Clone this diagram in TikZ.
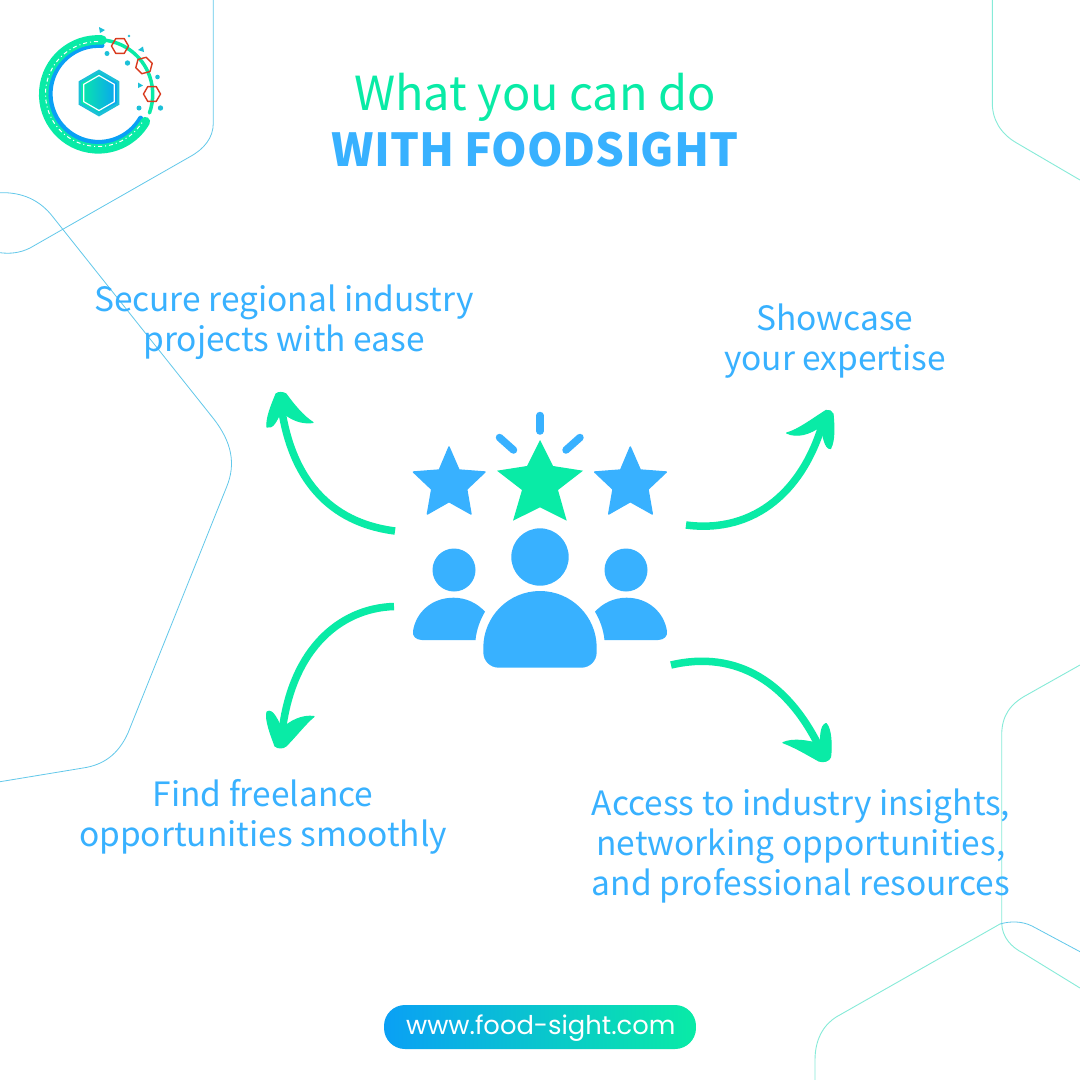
\documentclass[tikz,border=0pt]{standalone}
\usepackage{fontspec}
\setmainfont{Noto Sans CJK SC}
\newfontfamily\urlfont{Poppins}
\usetikzlibrary{shapes.geometric}
\definecolor{fsblue}{HTML}{38B1FF}
\definecolor{fsgreen}{HTML}{09EBA6}
\definecolor{fsline}{HTML}{86EBD8}
\definecolor{fsline2}{HTML}{62C8EA}
\definecolor{fsteal}{HTML}{1CC0D8}
\definecolor{fsdeep}{HTML}{0AA0F5}
\definecolor{fsred}{HTML}{D93A1E}
\tikzset{
  x=1pt,y=-1pt,
  bgline/.style={draw=fsline,line width=0.9pt},
  bglineb/.style={draw=fsline2,line width=0.8pt},
  labeltext/.style={text=fsblue,font=\fontsize{33.5}{40}\selectfont,align=center,inner sep=0pt},
  curvearrow/.style={draw=fsgreen,line width=7.5pt},
  barb/.style={fill=fsgreen,draw=fsgreen,line width=1.2pt,line join=round},
  person/.style={fill=fsblue},
  rayline/.style={draw=fsblue,line width=7.5pt,line cap=round},
  redhex/.style={draw=fsred,line width=1.4pt,line join=round},
  speck/.style={fill=fsteal},
}
\begin{document}
\begin{tikzpicture}
\useasboundingbox (0,0) rectangle (1080,1080);
\clip (0,0) rectangle (1080,1080);
\fill[white] (0,0) rectangle (1080,1080);
% background outlines
\draw[bglineb] (213.3,0) -- (213.3,123) .. controls (213.3,138) and (204,149) .. (190,156.7) -- (30,248) .. controls (20,253) and (10,254) .. (0,252.7);
\draw[bglineb] (0,192.7) .. controls (22,192) and (40,200) .. (53,217) -- (213,418) .. controls (232,442) and (236,464) .. (226.7,486.7) -- (128,733) .. controls (118,755) and (103,765) .. (83,768) -- (0,781.7);
\draw[bgline] (992.3,0) -- (992.3,103) .. controls (992.3,120) and (1001,134) .. (1016.7,143) -- (1080,180);
\draw[bgline] (1080,665) -- (1026.7,695) .. controls (1010,704) and (1001.7,716) .. (1001.7,735) -- (1001.7,923) .. controls (1002,937) and (1011,947) .. (1023,953) -- (1080,988);
\draw[bgline] (815,1080) -- (815,1060) .. controls (815,1040) and (823,1025) .. (836.7,1016.7) -- (1000,924);
\draw[bglineb] (1000,924) .. controls (1010,921) and (1022,921) .. (1032,926) -- (1080,951.7);
% logo
\draw[fsgreen,line width=3.5pt,line cap=round] (103,40) arc[start angle=-85,end angle=20,radius=54.5];
\draw[fsdeep,line width=5pt,line cap=round] (102,45.5) arc[start angle=-86,end angle=-330,radius=48.5];
\draw[fsgreen,line width=9.5pt,line cap=round] (102,40) arc[start angle=-86,end angle=-330,radius=54.5];
\draw[white,line width=1pt,dash pattern=on 4pt off 3pt on 1pt off 3pt] (98,41.5) arc[start angle=-90,end angle=-330,radius=52.5];
\node[regular polygon,regular polygon sides=6,shape border rotate=90,minimum size=44pt,inner sep=0pt,left color=fsgreen,right color=fsdeep,draw=fsteal,line width=2.5pt] (hexcore) at (99,93) {};
\node[regular polygon,regular polygon sides=6,shape border rotate=90,minimum size=35pt,inner sep=0pt,draw=white,line width=1.2pt] (hexinner) at (99,93) {};
\node[regular polygon,regular polygon sides=6,minimum size=17pt,inner sep=0pt,redhex] (redA) at (120,46) {};
\node[regular polygon,regular polygon sides=6,shape border rotate=15,minimum size=17pt,inner sep=0pt,redhex] (redB) at (144,65.5) {};
\node[regular polygon,regular polygon sides=6,minimum size=17pt,inner sep=0pt,redhex] (redC) at (152,94) {};
\fill[speck] (107,53.5) circle[radius=2.5];
\fill[speck] (127.5,63) circle[radius=2.7];
\fill[speck] (129,36) circle[radius=1.3];
\fill[speck] (157.5,77) circle[radius=2.3];
\fill[speck] (139,108) circle[radius=2.5];
\fill[speck] (160.5,108) circle[radius=2.7];
\fill[speck] (99,27) -- (105,30) -- (100,33) -- cycle;
\fill[speck] (138,50) -- (143,46.5) -- (144,52) -- cycle;
\fill[speck] (138,82.5) -- (143,85.5) -- (138,88) -- cycle;
% title
\node[text=fsgreen,font=\fontsize{46.9}{56}\selectfont,inner sep=0pt] (titleA) at (535,97) {What you can do};
\node[text=fsblue,font=\bfseries\fontsize{45.4}{56}\selectfont,inner sep=0pt] (titleB) at (535,150) {WITH FOODSIGHT};
% labels
\node[labeltext] (secure) at (284,322) {Secure regional industry\\projects with ease};
\node[labeltext] (showcase) at (835,341) {Showcase\\your expertise};
\node[labeltext] (find) at (263,817) {Find freelance\\opportunities smoothly};
\node[labeltext] (access) at (801,846) {Access to industry insights,\\networking opportunities,\\and professional resources};
% stars
\fill[fsgreen] (540,440) -- (553,466) -- (583,470.7) -- (558,490) -- (566.7,520.7) -- (540,507.3) -- (513,520.7) -- (522,490) -- (497,470.7) -- (527,466) -- cycle;
\foreach \dx in {0,181.3}{
\fill[fsblue,draw=fsblue,line width=1.4pt,line join=round,xshift=\dx] (449,447) -- (459,470) -- (485,472) -- (466.7,489.3) -- (471,514) -- (449,501.7) -- (427.4,514) -- (431.7,489.3) -- (413.4,472) -- (439.3,470) -- cycle;
}
\draw[rayline] (540,415.5) -- (540,431);
\draw[rayline] (499.5,437.5) -- (513.5,450);
\draw[rayline] (580,437.5) -- (566,450);
% people
\fill[person] (540,557) circle[radius=28.7];
\fill[person] (454,570) circle[radius=21.5];
\fill[person] (626,570) circle[radius=21.5];
\fill[person] (483.3,647.7) arc[start angle=180,end angle=360,radius=56.7] -- (596.7,652) .. controls (596.7,661) and (590,667.7) .. (581,667.7) -- (499,667.7) .. controls (490,667.7) and (483.3,661) .. (483.3,652) -- cycle;
\fill[person] (413,631) .. controls (416,612) and (432,597.7) .. (453.5,597.7) .. controls (466,597.7) and (477,603) .. (485,611.7) .. controls (480,620) and (476.5,630) .. (475.5,640) -- (422,640) .. controls (416,640) and (412,636) .. (413,631) -- cycle;
\fill[person] (667,631) .. controls (664,612) and (648,597.7) .. (626.5,597.7) .. controls (614,597.7) and (603,603) .. (595,611.7) .. controls (600,620) and (603.5,630) .. (604.5,640) -- (658,640) .. controls (664,640) and (668,636) .. (667,631) -- cycle;
% connector end points
\coordinate (tailA) at (395,531);
\coordinate (tipA) at (280,397);
\coordinate (tailB) at (686,525);
\coordinate (tipB) at (825,415);
\coordinate (tailC) at (394,606.5);
\coordinate (tipC) at (281,743);
\coordinate (tailD) at (671,665);
\coordinate (tipD) at (824,757);
% arrows
\draw[curvearrow] (tailA) .. controls (340,524) and (290,490) .. (tipA);
\fill[barb] (276,394) .. controls (272,404) and (266,418) .. (267,427) .. controls (273,429) and (277,420) .. (281,411) .. controls (291,420) and (302,424) .. (313,422.5) .. controls (303,416) and (294,405) .. (286,394) .. controls (283,392) and (278,392) .. (276,394) -- cycle;
\draw[curvearrow] (tailB) .. controls (755,534) and (806,490) .. (tipB);
\fill[barb] (826,410.5) .. controls (811,420) and (798,430) .. (786.7,433) .. controls (797,438) and (810,434) .. (821,426) .. controls (823,436) and (825,449) .. (830.5,448.5) .. controls (835,440) and (834,425) .. (833,414) .. controls (832,411) and (829,410) .. (826,410.5) -- cycle;
\draw[curvearrow] (tailC) .. controls (340,608) and (288,650) .. (tipC);
\fill[barb] (275,746) .. controls (271,735) and (265,720) .. (267,712) .. controls (273,708) and (278,722) .. (282,729) .. controls (290,721) and (302,715) .. (314,716.5) .. controls (305,724) and (296,736) .. (286,746) .. controls (283,748.5) and (278,748.5) .. (275,746) -- cycle;
\draw[curvearrow] (tailD) .. controls (735,650) and (790,680) .. (tipD);
\fill[barb] (830.5,757) .. controls (832,745) and (831,728) .. (826,723.5) .. controls (820,726) and (821,738) .. (820,744) .. controls (808,741) and (794,738) .. (783,742.7) .. controls (795,747) and (808,755) .. (819,761) .. controls (824,762.5) and (829,761) .. (830.5,757) -- cycle;
% url button
\shade[left color=fsdeep,right color=fsgreen,rounded corners=21pt] (384,1005) rectangle (696,1049);
\node[text=white,font=\urlfont\fontsize{25.8}{28}\selectfont,inner sep=0pt] (url) at (540.8,1028.5) {www.food-sight.com};
\end{tikzpicture}
\end{document}
